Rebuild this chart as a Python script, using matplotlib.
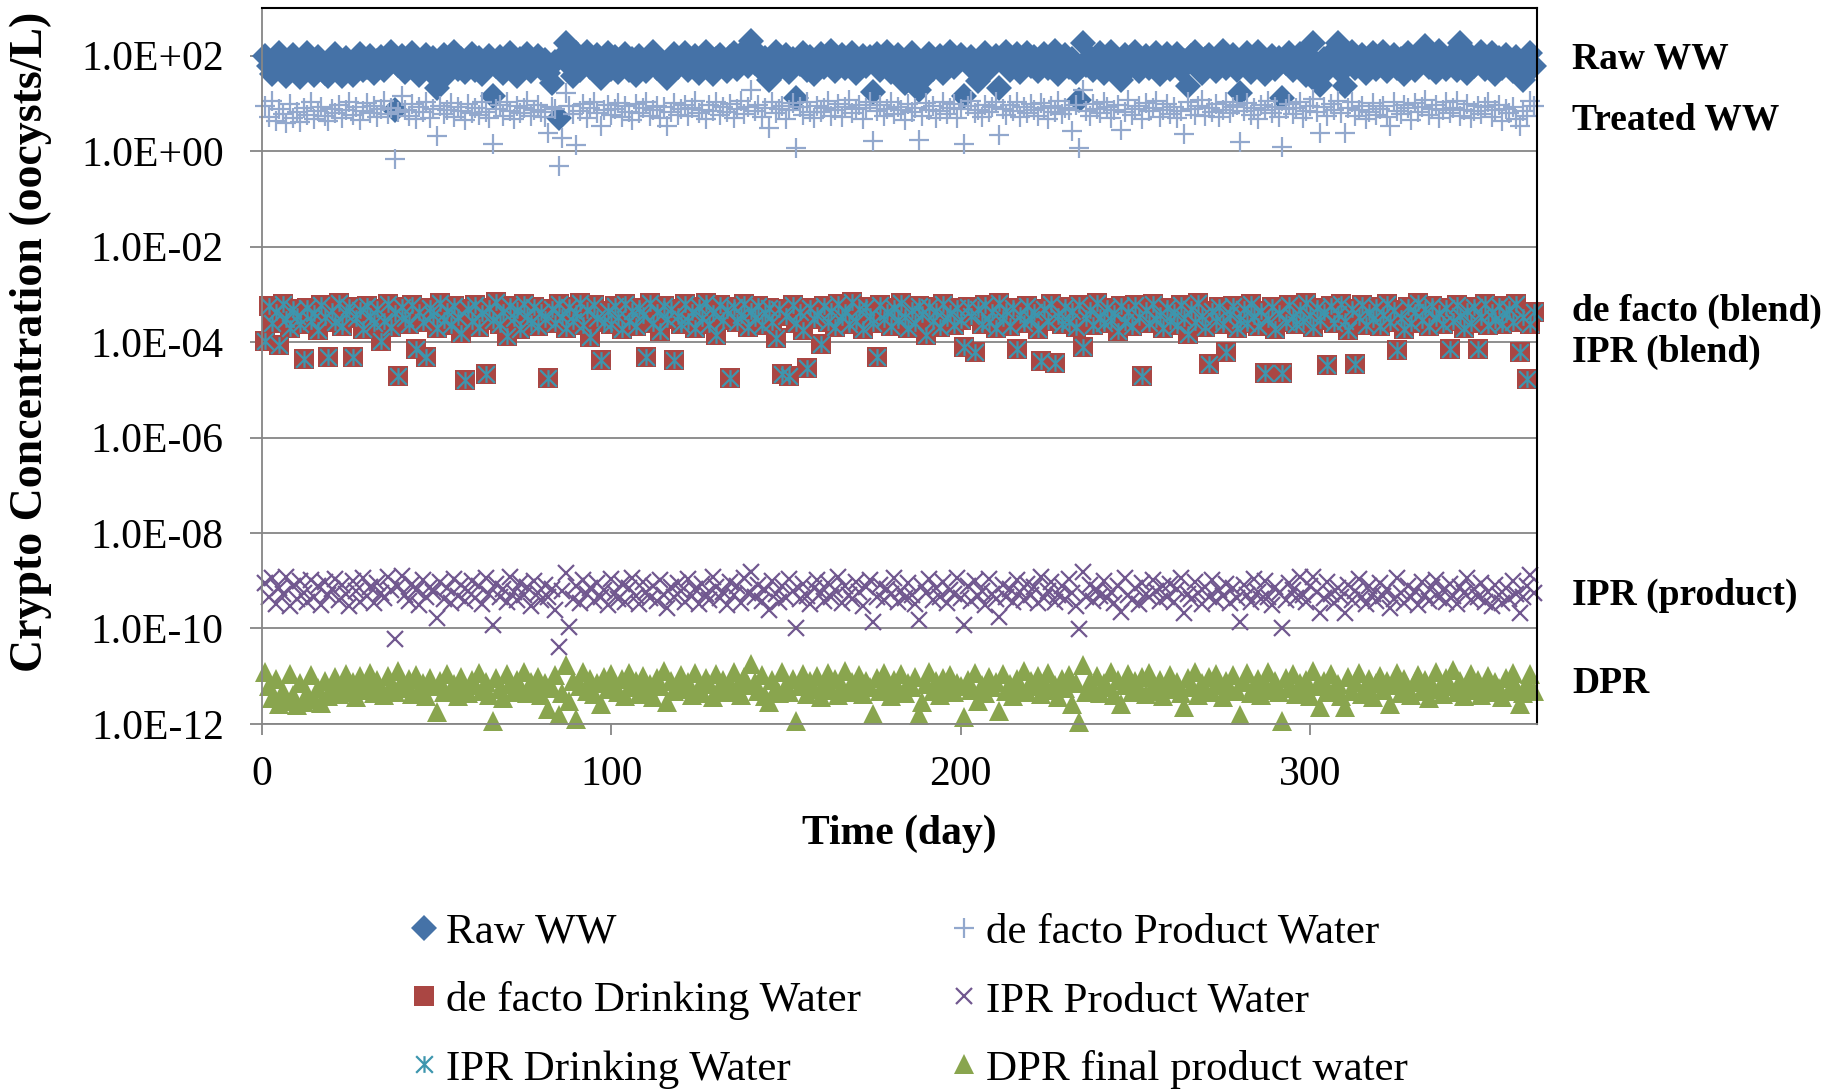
import numpy as np
import matplotlib.pyplot as plt
import matplotlib.transforms as mtransforms
from matplotlib.path import Path
from matplotlib.ticker import NullLocator

plt.rcParams["font.family"] = ["Liberation Serif", "DejaVu Serif"]

# values, log10(oocysts/L), one per day starting at day 1
# 20 days per row
raw_ww_log = [
    2.00, 1.78, 1.62, 1.95, 2.05, 1.70, 1.58, 1.88, 2.02, 1.66, 1.55, 1.92, 2.06, 1.74, 1.60, 1.98, 1.85, 1.64, 1.57, 1.90,
    2.03, 1.72, 1.58, 1.96, 1.82, 1.60, 1.93, 2.04, 1.69, 1.76, 2.00, 1.63, 1.88, 1.97, 1.71, 1.84, 2.08, 0.87, 1.80, 1.99,
    1.66, 1.91, 2.05, 1.74, 1.59, 1.86, 2.01, 1.68, 1.95, 1.32, 1.78, 2.02, 1.62, 1.89, 2.07, 1.73, 1.94, 1.65, 1.83, 2.03,
    1.70, 1.96, 1.61, 1.87, 2.00, 1.15, 1.79, 1.98, 1.64, 1.90, 2.06, 1.72, 1.58, 1.93, 1.81, 2.04, 1.67, 1.88, 1.99, 1.75,
    1.92, 1.63, 1.43, 1.86, 0.70, 1.97, 2.26, 1.80, 1.57, 2.05, 1.69, 1.94, 2.08, 1.76, 1.88, 2.02, 1.53, 1.91, 2.06, 1.73,
    1.98, 1.66, 1.89, 2.04, 1.71, 1.93, 1.60, 2.00, 1.84, 1.68, 1.96, 2.07, 1.74, 1.87, 1.62, 1.53, 1.95, 2.03, 1.77, 1.90,
    2.05, 1.70, 1.86, 1.99, 1.64, 1.92, 2.08, 1.75, 1.61, 1.94, 2.02, 1.80, 1.67, 1.97, 2.06, 1.72, 1.89, 2.10, 1.78, 2.30,
    1.85, 2.03, 1.69, 1.96, 1.50, 1.91, 2.07, 1.73, 1.88, 2.01, 1.65, 1.94, 1.12, 1.83, 2.05, 1.71, 1.98, 1.62, 1.90, 2.04,
    1.76, 1.93, 2.09, 1.68, 1.87, 2.02, 1.74, 1.95, 2.06, 1.63, 1.89, 2.00, 1.79, 1.97, 1.23, 2.04, 1.70, 1.92, 2.08, 1.66,
    1.88, 2.01, 1.75, 1.43, 1.96, 2.05, 1.69, 1.29, 1.50, 1.90, 2.03, 1.72, 1.86, 1.99, 1.64, 1.94, 2.07, 1.77, 1.91, 2.02,
    1.15, 1.85, 1.98, 1.67, 1.46, 1.93, 2.06, 1.73, 1.89, 2.00, 1.32, 1.95, 2.08, 1.70, 1.84, 2.03, 1.65, 1.92, 2.05, 1.78,
    1.97, 1.68, 1.88, 2.04, 1.74, 1.95, 2.09, 1.62, 1.86, 2.01, 1.77, 1.93, 1.66, 1.08, 2.26, 1.81, 1.98, 1.71, 1.90, 2.05,
    1.64, 1.94, 2.07, 1.79, 1.87, 1.50, 2.02, 1.72, 1.96, 2.08, 1.68, 1.85, 2.00, 1.75, 1.92, 2.06, 1.61, 1.89, 2.03, 1.73,
    1.95, 2.04, 1.70, 1.88, 1.36, 1.99, 2.07, 1.76, 1.63, 1.93, 2.01, 1.82, 1.67, 1.97, 2.09, 1.74, 1.86, 2.02, 1.71, 1.22,
    1.90, 2.05, 1.66, 1.94, 2.08, 1.78, 1.62, 1.87, 2.00, 1.73, 1.96, 1.12, 1.84, 2.06, 1.69, 1.91, 2.03, 1.76, 1.60, 1.98,
    2.26, 1.81, 1.39, 1.93, 1.70, 2.04, 1.88, 2.26, 1.65, 1.36, 1.97, 2.07, 1.74, 1.90, 2.01, 1.63, 1.86, 2.05, 1.72, 1.95,
    2.08, 1.68, 1.89, 2.02, 1.75, 1.94, 1.61, 2.06, 1.83, 1.71, 1.98, 2.04, 2.20, 1.77, 1.92, 1.66, 2.09, 1.85, 1.73, 1.96,
    2.03, 1.69, 2.26, 1.88, 1.64, 2.00, 1.79, 1.93, 2.07, 1.72, 1.87, 2.05, 1.62, 1.95, 1.74, 2.01, 1.84, 1.67, 1.98, 1.76,
    1.50, 1.90, 2.06, 1.78,
]

defacto_product_log = [
    0.95, 0.72, 1.05, 0.64, 0.88, 0.78, 0.60, 0.98, 0.70, 0.83, 0.62, 0.91, 0.76, 1.02, 0.67, 0.85, 0.93, 0.73, 0.63, 0.89,
    0.80, 0.97, 0.69, 0.87, 1.04, 0.75, 0.92, 0.66, 0.84, 1.00, 0.79, 0.94, 0.71, 0.88, 1.06, 0.77, 0.90, -0.17, 0.82, 1.15,
    0.86, 0.74, 0.99, 0.68, 0.92, 0.81, 1.03, 0.70, 0.89, 0.31, 0.95, 0.78, 0.87, 1.01, 0.72, 0.93, 0.84, 0.65, 0.98, 0.80,
    0.91, 0.76, 1.04, 0.83, 0.69, 0.14, 0.88, 0.97, 0.73, 1.02, 0.85, 0.67, 0.94, 0.79, 0.90, 1.05, 0.74, 0.86, 0.96, 0.81,
    0.71, 0.38, 0.92, 0.88, -0.31, 0.28, 1.22, 0.95, 0.77, 0.13, 0.84, 0.99, 0.70, 0.91, 1.03, 0.80, 0.52, 0.87, 0.96, 0.75,
    0.89, 1.01, 0.72, 0.94, 0.83, 0.66, 0.98, 0.79, 0.90, 1.04, 0.74, 0.86, 0.95, 0.69, 0.92, 0.52, 0.81, 1.00, 0.76, 0.88,
    0.97, 0.73, 0.91, 1.05, 0.80, 0.87, 0.68, 0.96, 0.84, 1.02, 0.75, 0.93, 0.82, 0.99, 0.70, 0.89, 1.06, 0.78, 0.92, 1.29,
    0.85, 0.97, 0.71, 0.90, 0.49, 1.03, 0.79, 0.88, 0.94, 0.67, 0.86, 1.00, 0.07, 0.92, 0.76, 1.04, 0.83, 0.69, 0.95, 0.81,
    0.90, 1.06, 0.74, 0.87, 0.98, 0.72, 0.93, 1.08, 0.80, 0.88, 0.96, 0.68, 0.91, 1.02, 0.21, 0.85, 0.97, 0.73, 0.89, 1.04,
    0.78, 0.92, 0.86, 0.66, 0.99, 0.81, 0.90, 0.24, 0.74, 1.01, 0.87, 0.95, 0.70, 0.84, 1.03, 0.77, 0.91, 0.98, 0.69, 0.88,
    0.16, 0.94, 1.05, 0.79, 0.86, 0.72, 0.97, 0.83, 0.92, 1.02, 0.33, 0.89, 0.75, 0.96, 0.85, 1.04, 0.71, 0.93, 0.80, 0.98,
    0.87, 0.74, 1.01, 0.90, 0.68, 0.95, 0.82, 1.06, 0.77, 0.91, 0.86, 0.42, 0.97, 0.06, 1.29, 0.84, 0.73, 0.99, 0.88, 0.79,
    1.03, 0.92, 0.70, 0.86, 0.96, 0.45, 0.81, 1.07, 0.75, 0.89, 0.94, 0.67, 1.00, 0.84, 0.91, 1.05, 0.72, 0.87, 0.98, 0.78,
    0.93, 0.69, 0.85, 0.35, 1.02, 0.88, 0.76, 0.95, 1.08, 0.73, 0.90, 0.82, 0.99, 0.71, 0.86, 1.04, 0.79, 0.92, 0.97, 0.19,
    0.84, 1.01, 0.75, 0.90, 0.68, 0.96, 0.87, 1.05, 0.80, 0.93, 0.72, 0.09, 0.88, 0.99, 0.77, 0.91, 1.03, 0.70, 0.85, 0.95,
    1.09, 0.81, 0.38, 0.92, 0.74, 0.98, 0.86, 1.06, 0.79, 0.38, 0.90, 1.02, 0.73, 0.87, 0.95, 0.68, 0.83, 1.00, 0.76, 0.89,
    0.94, 0.71, 0.52, 1.04, 0.85, 0.78, 0.97, 0.90, 0.66, 1.01, 0.82, 0.93, 1.07, 0.75, 0.88, 0.96, 0.70, 0.86, 1.03, 0.80,
    0.91, 1.05, 0.74, 0.87, 0.99, 0.69, 0.84, 0.95, 0.77, 0.92, 1.02, 0.72, 0.86, 0.97, 0.64, 0.89, 0.80, 0.93, 0.68, 0.52,
    0.85, 0.74, 1.06, 0.95,
]

defacto_drinking_log = [
    -3.97, -3.25, -3.60, -3.38, -4.07, -3.20, -3.52, -3.70, -3.30, -3.45, -3.62, -4.35, -3.28, -3.55, -3.40, -3.75, -3.22, -3.48, -4.31, -3.35,
    -3.58, -3.18, -3.66, -3.42, -3.27, -4.31, -3.50, -3.33, -3.72, -3.24, -3.46, -3.60, -3.30, -3.97, -3.55, -3.21, -3.68, -3.39, -4.72, -3.26,
    -3.49, -3.63, -3.23, -4.14, -3.36, -3.57, -4.31, -3.29, -3.44, -3.71, -3.19, -3.53, -3.34, -3.65, -3.25, -3.47, -3.80, -4.79, -3.31, -3.56,
    -3.22, -3.69, -3.40, -4.66, -3.28, -3.54, -3.17, -3.62, -3.37, -3.88, -3.24, -3.50, -3.33, -3.73, -3.20, -3.45, -3.59, -3.27, -3.66, -3.36,
    -3.52, -4.75, -3.30, -3.61, -3.21, -3.47, -3.70, -3.26, -3.55, -3.39, -3.18, -3.64, -3.32, -3.90, -3.23, -3.49, -4.38, -3.58, -3.35, -3.62,
    -3.25, -3.48, -3.72, -3.20, -3.56, -3.34, -3.67, -3.29, -3.43, -4.31, -3.19, -3.60, -3.38, -3.76, -3.24, -3.51, -3.31, -4.37, -3.45, -3.63,
    -3.21, -3.55, -3.36, -3.70, -3.27, -3.49, -3.18, -3.62, -3.40, -3.85, -3.23, -3.53, -3.32, -4.75, -3.26, -3.58, -3.44, -3.20, -3.68, -3.35,
    -3.50, -3.24, -3.64, -3.39, -3.28, -3.57, -3.92, -3.31, -4.66, -3.46, -4.70, -3.22, -3.60, -3.37, -3.74, -4.54, -3.29, -3.52, -3.43, -4.03,
    -3.25, -3.58, -3.34, -3.69, -3.20, -3.48, -3.38, -3.63, -3.17, -3.55, -3.30, -3.72, -3.26, -3.45, -3.61, -4.31, -3.23, -3.51, -3.36, -3.66,
    -3.28, -3.54, -3.19, -3.47, -3.71, -3.33, -3.60, -3.24, -3.42, -3.86, -3.27, -3.56, -3.35, -3.68, -3.21, -3.50, -3.39, -3.64, -3.29, -3.53,
    -4.10, -3.26, -3.45, -4.21, -3.31, -3.62, -3.22, -3.57, -3.38, -3.70, -3.18, -3.49, -3.34, -3.66, -3.28, -4.14, -3.43, -3.59, -3.24, -3.52,
    -3.37, -3.73, -4.40, -3.30, -3.55, -3.21, -4.43, -3.46, -3.63, -3.27, -3.58, -3.35, -3.69, -3.23, -4.10, -3.50, -3.32, -3.65, -3.19, -3.47,
    -3.61, -3.29, -3.54, -3.40, -3.76, -3.25, -3.57, -3.36, -3.67, -3.22, -3.48, -4.70, -3.33, -3.60, -3.20, -3.52, -3.44, -3.71, -3.28, -3.56,
    -3.38, -3.64, -3.23, -3.49, -3.84, -3.31, -3.58, -3.19, -3.45, -3.68, -4.45, -3.35, -3.55, -3.27, -3.62, -4.21, -3.42, -3.24, -3.70, -3.53,
    -3.30, -3.59, -3.21, -3.46, -3.66, -3.34, -4.65, -3.52, -3.26, -3.73, -3.39, -4.65, -3.57, -3.22, -3.48, -3.63, -3.32, -3.55, -3.18, -3.44,
    -3.69, -3.28, -3.53, -3.37, -4.49, -3.25, -3.61, -3.41, -3.20, -3.56, -3.74, -3.30, -4.45, -3.47, -3.23, -3.64, -3.36, -3.51, -3.27, -3.66,
    -3.43, -3.21, -3.58, -3.33, -4.17, -3.49, -3.72, -3.26, -3.60, -3.38, -3.19, -3.54, -3.31, -3.67, -3.24, -3.50, -3.40, -3.63, -3.29, -4.14,
    -3.55, -3.22, -3.46, -3.70, -3.34, -3.59, -3.27, -4.14, -3.48, -3.20, -3.65, -3.37, -3.53, -3.25, -3.62, -3.42, -3.30, -3.57, -3.21, -4.21,
    -3.48, -4.77, -3.62, -3.36,
]

ipr_product_log = [
    -9.05, -9.35, -8.95, -9.48, -9.15, -9.28, -8.92, -9.52, -9.10, -9.38, -9.00, -9.25, -9.45, -8.98, -9.33, -9.12, -9.50, -9.02, -9.30, -9.18,
    -8.96, -9.40, -9.08, -9.27, -9.53, -9.01, -9.22, -9.44, -8.94, -9.32, -9.14, -9.47, -9.04, -9.26, -9.36, -8.93, -9.20, -10.23, -9.11, -8.91,
    -9.29, -9.42, -9.06, -9.19, -9.51, -8.99, -9.34, -9.13, -9.24, -9.79, -9.03, -9.39, -9.16, -9.46, -8.97, -9.31, -9.09, -9.43, -9.21, -9.00,
    -9.37, -9.12, -9.49, -8.95, -9.27, -9.93, -9.07, -9.35, -9.17, -9.44, -8.93, -9.23, -9.40, -9.05, -9.30, -9.14, -9.52, -9.01, -9.25, -9.41,
    -9.08, -9.34, -9.18, -9.61, -10.39, -9.22, -8.84, -9.96, -9.38, -9.11, -9.47, -8.98, -9.28, -9.15, -9.43, -9.04, -9.33, -9.20, -9.50, -8.96,
    -9.26, -9.39, -9.07, -9.45, -9.16, -8.94, -9.31, -9.48, -9.02, -9.24, -9.36, -9.10, -9.42, -8.99, -9.29, -9.58, -9.13, -9.35, -9.05, -9.21,
    -9.44, -8.97, -9.32, -9.18, -9.49, -9.06, -9.27, -9.40, -8.92, -9.14, -9.37, -9.23, -9.51, -9.03, -9.30, -9.11, -9.46, -8.95, -9.25, -8.81,
    -9.34, -9.09, -9.42, -9.19, -9.61, -9.01, -9.28, -9.45, -9.12, -9.36, -8.96, -9.22, -10.00, -9.39, -9.07, -9.31, -9.48, -9.15, -8.99, -9.26,
    -9.43, -9.04, -9.33, -9.20, -8.93, -9.47, -9.10, -9.29, -9.38, -9.02, -9.24, -9.52, -9.13, -8.98, -9.86, -9.35, -9.08, -9.41, -9.17, -9.27,
    -8.95, -9.44, -9.21, -9.36, -9.05, -9.30, -9.49, -9.82, -9.11, -9.25, -8.97, -9.40, -9.16, -9.34, -9.03, -9.46, -9.19, -9.28, -8.94, -9.37,
    -9.93, -9.12, -9.43, -9.01, -9.32, -9.22, -9.50, -8.96, -9.27, -9.39, -9.75, -9.09, -9.35, -9.18, -9.45, -8.99, -9.24, -9.41, -9.06, -9.30,
    -9.14, -9.47, -8.93, -9.36, -9.21, -9.03, -9.44, -9.29, -9.11, -9.38, -8.97, -9.26, -9.52, -10.02, -8.81, -9.33, -9.08, -9.42, -9.19, -9.31,
    -9.00, -9.37, -9.24, -9.46, -9.10, -9.65, -8.95, -9.30, -9.40, -9.15, -9.49, -9.04, -9.27, -9.35, -8.98, -9.22, -9.43, -9.12, -9.33, -9.07,
    -9.45, -9.18, -8.94, -9.68, -9.28, -9.39, -9.02, -9.25, -9.48, -9.13, -9.34, -8.99, -9.42, -9.20, -9.31, -9.06, -9.47, -9.16, -9.37, -9.86,
    -9.09, -9.29, -9.44, -8.96, -9.23, -9.38, -9.01, -9.33, -9.50, -9.14, -9.26, -10.00, -9.41, -9.05, -9.19, -9.36, -8.93, -9.30, -9.45, -9.11,
    -8.92, -9.24, -9.68, -9.37, -9.03, -9.28, -9.46, -9.15, -9.33, -9.68, -9.08, -9.40, -9.21, -8.97, -9.35, -9.49, -9.12, -9.27, -9.43, -9.04,
    -9.31, -9.17, -9.58, -9.39, -8.95, -9.25, -9.47, -9.10, -9.34, -9.22, -9.51, -9.02, -9.29, -9.42, -9.14, -8.98, -9.36, -9.20, -9.45, -9.07,
    -9.32, -9.48, -9.13, -9.26, -8.94, -9.40, -9.18, -9.35, -9.05, -9.44, -9.23, -9.52, -9.09, -9.30, -9.46, -9.16, -9.38, -9.01, -9.28, -9.68,
    -9.34, -9.12, -8.88, -9.25,
]

# IPR drinking water sits exactly on the de facto drinking water points
ipr_drinking_log = defacto_drinking_log

dpr_log = [
    -10.92, -11.20, -11.45, -11.05, -11.58, -11.30, -11.52, -10.95, -11.40, -11.60, -11.15, -11.55, -11.35, -10.98, -11.48, -11.25, -11.57, -11.10, -11.42, -11.22,
    -11.02, -11.38, -11.17, -10.96, -11.32, -11.12, -11.44, -11.00, -11.28, -11.15, -10.94, -11.36, -11.08, -11.26, -11.40, -10.99, -11.18, -11.33, -10.90, -11.11,
    -11.24, -11.06, -11.37, -10.97, -11.29, -11.14, -11.42, -11.03, -11.21, -11.75, -11.09, -11.34, -10.95, -11.27, -11.16, -11.41, -11.01, -11.23, -11.35, -11.07,
    -11.19, -10.93, -11.31, -11.13, -11.39, -11.93, -11.04, -11.26, -11.45, -10.96, -11.17, -11.33, -11.08, -11.22, -10.91, -11.36, -11.12, -11.28, -11.02, -11.40,
    -11.15, -11.68, -11.25, -10.98, -11.82, -11.35, -10.77, -11.51, -11.10, -11.89, -11.20, -10.92, -11.30, -11.06, -11.38, -11.14, -11.58, -11.01, -11.27, -10.95,
    -11.18, -11.33, -11.05, -11.42, -10.94, -11.23, -11.11, -11.37, -10.99, -11.29, -11.16, -11.44, -11.03, -11.21, -10.90, -11.54, -11.09, -11.31, -11.19, -10.97,
    -11.26, -11.12, -11.40, -10.93, -11.22, -11.35, -11.04, -11.17, -11.43, -10.96, -11.28, -11.08, -11.34, -11.15, -10.91, -11.24, -11.39, -11.02, -11.19, -10.74,
    -11.13, -11.30, -10.97, -11.41, -11.54, -11.07, -11.25, -11.36, -10.92, -11.18, -11.32, -11.05, -11.93, -11.21, -10.95, -11.38, -11.11, -11.27, -11.00, -11.44,
    -11.16, -10.93, -11.29, -11.06, -11.40, -11.20, -10.89, -11.33, -11.12, -11.24, -10.98, -11.37, -11.09, -11.23, -11.79, -11.03, -11.31, -10.94, -11.19, -11.42,
    -11.08, -11.26, -10.96, -11.35, -11.14, -11.22, -11.01, -11.82, -11.54, -11.17, -10.92, -11.30, -11.10, -11.39, -11.04, -11.25, -10.97, -11.33, -11.15, -11.20,
    -11.86, -11.07, -11.28, -10.93, -11.51, -11.18, -11.36, -11.02, -11.23, -11.12, -11.72, -10.95, -11.31, -11.16, -11.41, -11.05, -11.26, -10.90, -11.34, -11.11,
    -11.21, -11.00, -11.38, -11.13, -10.94, -11.29, -11.19, -11.43, -11.06, -11.24, -10.97, -11.58, -11.15, -11.96, -10.77, -11.32, -11.09, -11.27, -10.99, -11.36,
    -11.14, -11.22, -10.92, -11.40, -11.07, -11.58, -11.18, -10.96, -11.33, -11.11, -11.25, -11.02, -11.37, -10.93, -11.20, -11.30, -11.08, -11.42, -11.16, -10.98,
    -11.27, -11.12, -11.35, -11.65, -11.04, -11.23, -10.91, -11.39, -11.15, -11.29, -11.01, -11.34, -10.95, -11.19, -11.44, -11.09, -11.26, -10.97, -11.31, -11.82,
    -11.13, -10.94, -11.36, -11.21, -11.05, -11.40, -11.17, -10.92, -11.28, -11.10, -11.33, -11.93, -11.03, -11.24, -10.96, -11.38, -11.14, -11.30, -11.07, -11.42,
    -10.88, -11.20, -11.65, -11.09, -11.34, -10.95, -11.26, -11.16, -11.41, -11.65, -11.02, -11.31, -11.12, -10.93, -11.37, -11.22, -11.06, -11.44, -11.15, -10.99,
    -11.28, -11.10, -11.58, -11.19, -10.94, -11.35, -11.05, -11.24, -11.40, -11.13, -10.97, -11.30, -11.08, -11.45, -11.18, -10.91, -11.27, -11.38, -11.03, -11.21,
    -10.86, -11.33, -11.11, -11.42, -11.16, -10.95, -11.29, -11.07, -11.39, -11.20, -10.99, -11.34, -11.12, -11.25, -11.43, -11.04, -11.31, -10.93, -11.22, -11.58,
    -11.36, -11.15, -10.95, -11.30,
]

series_names = ["Raw WW", "de facto Product Water", "de facto Drinking Water",
                "IPR Product Water", "IPR Drinking Water", "DPR final product water"]

right_labels = ["Raw WW", "Treated WW", "de facto (blend)", "IPR (blend)",
                "IPR (product)", "DPR"]
right_label_log = [1.93, 0.65, -3.36, -4.22, -9.30, -11.16]

y_tick_exp = [2, 0, -2, -4, -6, -8, -10, -12]
x_ticks = [0, 100, 200, 300]

# excel style "star": X plus a vertical bar
star = Path([(-1, -1), (1, 1), (-1, 1), (1, -1), (0, -1), (0, 1)],
            [Path.MOVETO, Path.LINETO, Path.MOVETO, Path.LINETO, Path.MOVETO, Path.LINETO])

styles = [
    dict(marker="D", ms=13.5, color="#4572A7", mew=0),
    dict(marker="+", ms=14, color="#92A8CD", mew=1.6),
    dict(marker="s", ms=14.5, color="#AA4643", mew=0),
    dict(marker="x", ms=12, color="#71588F", mew=1.6),
    dict(marker=star, ms=12, color="#3D96AE", mew=1.6),
    dict(marker="^", ms=14, color="#89A54E", mew=0),
]
all_series = [raw_ww_log, defacto_product_log, defacto_drinking_log,
              ipr_product_log, ipr_drinking_log, dpr_log]

fig = plt.figure(figsize=(18.27, 10.89), dpi=100)
ax = fig.add_axes([0.1434, 0.3352, 0.6979, 0.6575])

handles = []
for name, vals, st in zip(series_names, all_series, styles):
    days = np.arange(1, len(vals) + 1)
    (h,) = ax.plot(days, 10.0 ** np.array(vals), ls="none", label=name,
                   clip_on=False, **st)
    handles.append(h)

ax.set_yscale("log")
ax.set_ylim(1e-12, 1e3)
ax.set_xlim(0, 365)
ax.set_yticks([10.0 ** e for e in y_tick_exp])
ax.set_yticklabels([f"{10.0 ** e:.1E}" for e in y_tick_exp])
ax.yaxis.set_minor_locator(NullLocator())
ax.set_xticks(x_ticks)
ax.set_xticklabels([str(t) for t in x_ticks])

ax.grid(axis="y", color="#868686", lw=1.3)
ax.set_axisbelow(True)
ax.tick_params(axis="y", direction="out", length=8.5, width=1.3, color="#868686",
               labelsize=30, pad=19)
ax.tick_params(axis="x", direction="out", length=8, width=1.3, color="#868686",
               labelsize=30, pad=14.5)
for side in ["left", "bottom"]:
    ax.spines[side].set_color("#868686")
    ax.spines[side].set_linewidth(1.3)
for side in ["top", "right"]:
    ax.spines[side].set_color("black")
    ax.spines[side].set_linewidth(1.5)

ax.set_xlabel("Time (day)", fontsize=30, fontweight="bold")
ax.xaxis.set_label_coords(0.5, -0.126)
ax.set_ylabel("Crypto Concentration (oocysts/L)", fontsize=33, fontweight="bold")
ax.yaxis.set_label_coords(-0.165, 0.534)

trans = mtransforms.blended_transform_factory(ax.transAxes, ax.transData)
for txt, lv in zip(right_labels, right_label_log):
    ax.text(1.0275, 10.0 ** lv, txt, transform=trans, fontsize=27,
            fontweight="bold", ha="left", va="center")

# column-major ordering so rows read like the original legend
order = [0, 2, 4, 1, 3, 5]
fig.legend([handles[i] for i in order], [series_names[i] for i in order],
           ncol=2, loc="upper left", bbox_to_anchor=(0.2252, 0.162),
           frameon=False, fontsize=31, handlelength=0.6, handletextpad=0.2,
           columnspacing=2.1, labelspacing=0.68, borderpad=0, borderaxespad=0)

fig.savefig("out.png", dpi=100)
